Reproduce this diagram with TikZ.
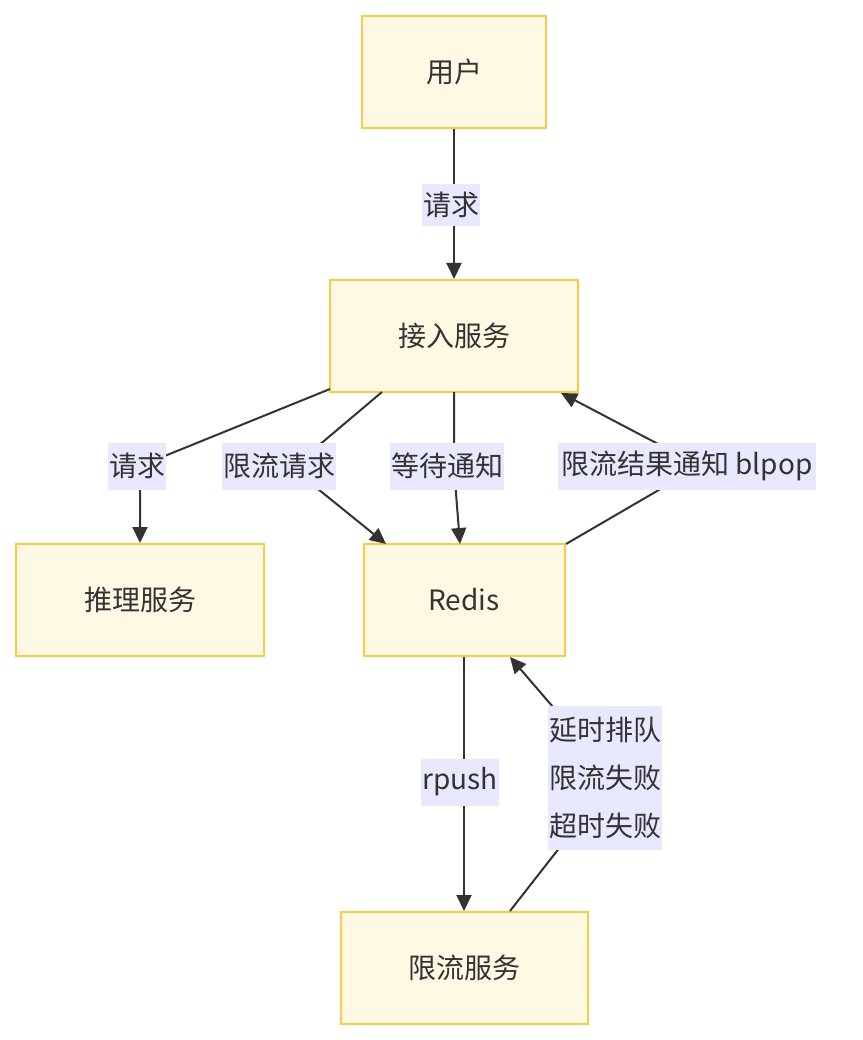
\documentclass[tikz,border=0pt]{standalone}
\usepackage{fontspec}
\setmainfont{Noto Sans CJK SC}
\usetikzlibrary{arrows.meta}
\definecolor{nodefill}{HTML}{FFF8E3}
\definecolor{nodeline}{HTML}{FCCB45}
\definecolor{lblfill}{HTML}{E8E8FF}
\definecolor{txt}{HTML}{333333}
\tikzset{
  box/.style={draw=nodeline, fill=nodefill, line width=2pt, inner sep=0pt, text=txt, font=\fontsize{28}{32}\selectfont},
  lbl/.style={fill=lblfill, inner sep=0pt, text=txt, font=\fontsize{28}{48}\selectfont, align=center},
  conn/.style={draw=txt, line width=2pt},
  arr/.style={conn, -{Triangle[length=16pt,width=15pt]}},
}
\begin{document}
\begin{tikzpicture}[x=1pt,y=-1pt]
\useasboundingbox (0,0) rectangle (862,1040);
% nodes
\node[box, minimum width=184pt, minimum height=112pt] (user) at (454,72) {用户};
\node[box, minimum width=248pt, minimum height=112pt] (gate) at (454,336) {接入服务};
\node[box, minimum width=248pt, minimum height=112pt] (infer) at (140,600) {推理服务};
\node[box, minimum width=201pt, minimum height=112pt] (redis) at (464,600) {Redis};
\node[box, minimum width=247pt, minimum height=112pt] (limit) at (464,968) {限流服务};
% bend points
\coordinate (c1) at (454,205);
\coordinate (c2) at (140,466);
\coordinate (c3) at (292,468);
\coordinate (c4) at (454,468);
\coordinate (c5) at (700,466);
\coordinate (c6) at (464,782);
\coordinate (c7) at (614,778);
% anchors on boxes
\coordinate (g1) at (330,389);
\coordinate (g2) at (382,392);
\coordinate (g3) at (454,392);
\coordinate (g4) at (561,393);
\coordinate (r1) at (386,544);
\coordinate (r2) at (460,544);
\coordinate (r3) at (566,544);
\coordinate (r4) at (510,657);
\coordinate (l1) at (510,911);
% connectors
\draw[arr] (user.south) -- (c1) -- (gate.north);
\draw[arr] (g1) -- (c2) -- (infer.north);
\draw[arr] (g2) -- (c3) -- (r1);
\draw[arr] (g3) -- (c4) -- (r2);
\draw[arr] (r3) -- (c5) -- (g4);
\draw[arr] (redis.south) -- (c6) -- (limit.north);
\draw[arr] (l1) -- (c7) -- (r4);
% labels
\node[lbl, minimum width=58pt, minimum height=42pt] (L1) at (451,205) {请求};
\node[lbl, minimum width=58pt, minimum height=47pt] (L2) at (137,466) {请求};
\node[lbl, minimum width=114pt, minimum height=47pt] (L3) at (279,466) {限流请求};
\node[lbl, minimum width=114pt, minimum height=47pt] (L4) at (447,466) {等待通知};
\node[lbl, minimum width=258pt, minimum height=47pt] (L5) at (687,466) {限流结果通知 blpop};
\node[lbl, minimum width=78pt, minimum height=47pt] (L6) at (460,782) {rpush};
\node[lbl, minimum width=114pt, minimum height=144pt] (L7) at (605,778) {延时排队\\限流失败\\超时失败};
\end{tikzpicture}
\end{document}
